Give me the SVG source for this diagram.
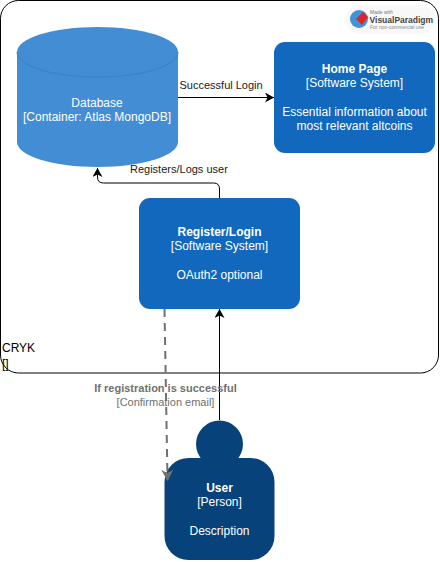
<svg xmlns="http://www.w3.org/2000/svg" width="440" height="562" viewBox="0 0 440 562">
<style>
text{font-family:"Liberation Sans",Arial,sans-serif;font-size:12px}
.w{fill:#fff;text-anchor:middle}
.b{font-weight:bold}
.k{fill:#1a1a1a;font-size:11px}
.g{fill:#707070;font-size:11px;text-anchor:middle}
.c{fill:none;stroke:#000;stroke-width:1}
</style>
<defs>
<marker id="a" markerUnits="userSpaceOnUse" markerWidth="11" markerHeight="11" refX="9" refY="5" orient="auto"><path d="M0 0L9 5L0 10L2.500 5Z" fill="#000"/></marker>
<marker id="g" markerUnits="userSpaceOnUse" markerWidth="13" markerHeight="13" refX="10" refY="6" orient="auto"><path d="M0 0L11 6L0 12L3 6Z" fill="#707070"/></marker>
</defs>
<rect width="440" height="562" fill="#fff"/>
<g id="container">
<rect x="0.5" y="0.500" width="438" height="372.500" rx="18" fill="#fff" stroke="#000"/>
<text x="2" y="352" fill="#000">CRYK</text>
<text x="2" y="368" fill="#000">[]</text>
</g>
<g id="logo">
<rect x="346" y="5" width="88" height="29" rx="14" fill="#f8f8f8"/>
<circle cx="359" cy="19" r="9" fill="#3f93d6"/>
<path d="M356 19l7-7 5 5-6 8z" fill="#d8262c"/>
<text x="370" y="14" style="font-size:5px" fill="#777">Made with</text>
<text x="369.500" y="22.500" style="font-size:8.500px;font-weight:bold" fill="#444">VisualParadigm</text>
<text x="370" y="29" style="font-size:5px" fill="#888">For non-commercial use</text>
</g>
<g id="database">
<path d="M17 52C17 38 53 27 97.500 27S178 38 178 52V142C178 156 142 167 97.500 167S17 156 17 142Z" fill="#438DD5"/>
<path d="M17 52C17 66 53 77 97.500 77S178 66 178 52" fill="none" stroke="#3C7FC0"/>
<text class="w" x="97" y="107">Database</text>
<text class="w" x="97" y="121">[Container: Atlas MongoDB]</text>
</g>
<g id="home-page">
<rect x="274" y="42" width="161" height="111" rx="11" fill="#1168BD"/>
<text class="w b" x="354.500" y="73">Home Page</text>
<text class="w" x="354.500" y="87">[Software System]</text>
<text class="w" x="354.500" y="116">Essential information about</text>
<text class="w" x="354.500" y="130">most relevant altcoins</text>
</g>
<g id="register-login">
<rect x="139" y="198" width="161" height="111" rx="11" fill="#1168BD"/>
<text class="w b" x="219.500" y="236">Register/Login</text>
<text class="w" x="219.500" y="250">[Software System]</text>
<text class="w" x="219.500" y="279">OAuth2 optional</text>
</g>
<g id="user">
<circle cx="219.500" cy="444" r="23.500" fill="#08427B"/>
<rect x="164.500" y="458" width="110" height="102" rx="24" fill="#08427B"/>
<text class="w b" x="219.500" y="492">User</text>
<text class="w" x="219.500" y="506">[Person]</text>
<text class="w" x="219.500" y="535">Description</text>
</g>
<g id="connectors">
<path class="c" d="M178 97.500H274" marker-end="url(#a)"/>
<path class="c" d="M219.500 198V189Q219.500 183 213.500 183H103.500Q97.500 183 97.500 177V168" marker-end="url(#a)"/>
<path class="c" d="M219.500 420V309" marker-end="url(#a)"/>
<path d="M164.500 309L167.500 480" fill="none" stroke="#707070" stroke-width="2" stroke-dasharray="8 6" marker-end="url(#g)"/>
</g>
<g id="labels">
<text class="k" x="179.500" y="89">Successful Login</text>
<text class="k" x="130" y="173">Registers/Logs user</text>
<text class="g" x="165.500" y="392" font-weight="bold">If registration is successful</text>
<text class="g" x="165.500" y="406">[Confirmation email]</text>
</g>
</svg>
